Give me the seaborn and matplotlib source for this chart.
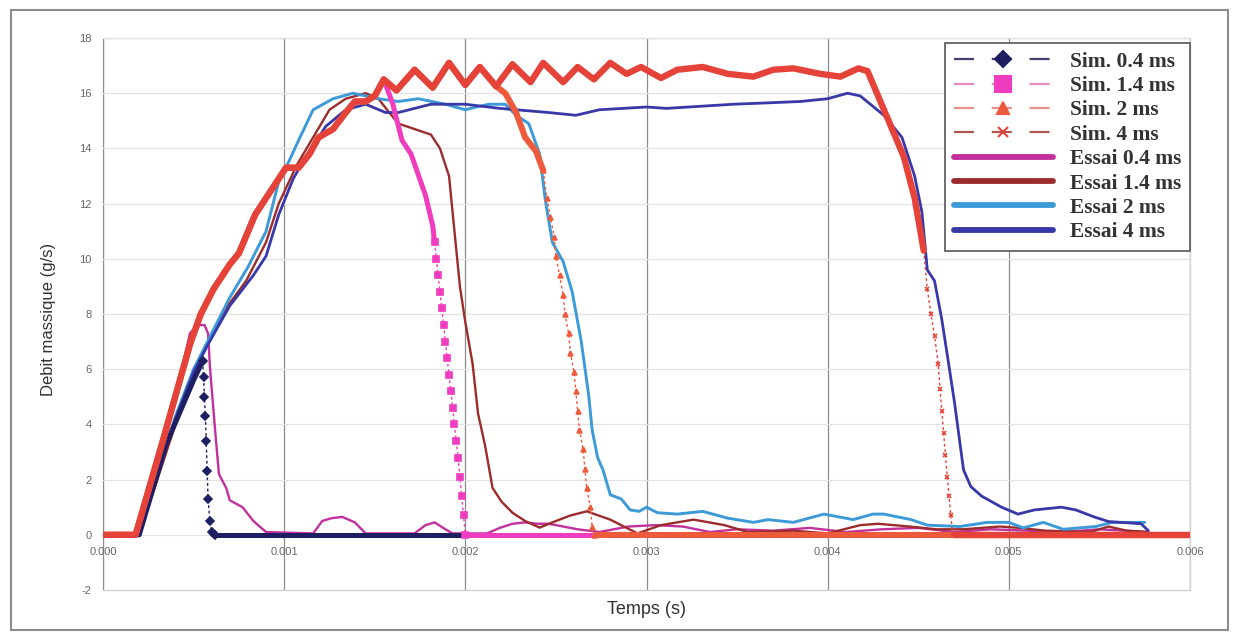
import numpy as np
import matplotlib
matplotlib.use("Agg")
import matplotlib.pyplot as plt
from matplotlib.lines import Line2D
from matplotlib.patches import Rectangle
from matplotlib.ticker import FormatStrFormatter, MultipleLocator
import seaborn as sns

# --- data (time in s, mass flow in g/s) ---
# simulations: shared rise + oscillating plateau, then each one its own tail
sim_rise_t = [0, 0.00018, 0.00033, 0.00048, 0.00054, 0.00061, 0.00070, 0.00075, 0.00084,
              0.00094, 0.00101, 0.00108, 0.00114, 0.00119, 0.00127, 0.00134, 0.00139,
              0.00145, 0.00150]
sim_rise_v = [0, 0, 3.4, 6.9, 8.0, 8.9, 9.8, 10.2, 11.6,
              12.6, 13.3, 13.3, 13.8, 14.4, 14.7, 15.3, 15.7,
              15.7, 15.9]
sim_osc_t = [0.00155, 0.00162, 0.00172, 0.00182, 0.00191, 0.00200, 0.00208, 0.00217]
sim_osc_v = [16.5, 16.1, 16.85, 16.2, 17.1, 16.3, 16.95, 16.25]

sim04_t = [0, 0.00020, 0.00035, 0.00050, 0.00055, 0.000555, 0.00056, 0.000565, 0.00057,
           0.000575, 0.00058, 0.00059, 0.00060, 0.00062, 0.00600]
sim04_v = [0, 0, 3.3, 5.6, 6.3, 5.7, 5.0, 4.3, 3.4,
           2.3, 1.3, 0.5, 0.1, 0, 0]

sim14_tail_t = [0.00155, 0.00160, 0.00165, 0.00170, 0.00178, 0.00182, 0.00183, 0.00184,
                0.00185, 0.00186, 0.00187, 0.00188, 0.00189, 0.00190, 0.00191, 0.00192,
                0.00193, 0.00194, 0.00195, 0.00196, 0.00197, 0.00198, 0.00199, 0.00200,
                0.00600]
sim14_tail_v = [16.5, 15.6, 14.3, 13.8, 12.3, 11.2, 10.6, 10.0,
                9.4, 8.8, 8.2, 7.6, 7.0, 6.4, 5.8, 5.2,
                4.6, 4.0, 3.4, 2.8, 2.1, 1.4, 0.7, 0.0,
                0.0]

sim2_tail_t = [0.00222, 0.00228, 0.00233, 0.00239, 0.00243, 0.00245, 0.00247, 0.00249,
               0.00250, 0.00252, 0.00254, 0.00255, 0.00257, 0.00258, 0.00260, 0.00261,
               0.00262, 0.00263, 0.00265, 0.00266, 0.00267, 0.00269, 0.00270, 0.00271,
               0.00600]
sim2_tail_v = [16.0, 15.3, 14.4, 13.9, 13.2, 12.2, 11.5, 10.8,
               10.1, 9.4, 8.7, 8.0, 7.3, 6.6, 5.9, 5.2,
               4.5, 3.8, 3.1, 2.4, 1.7, 1.0, 0.3, 0.0,
               0.0]

sim4_tail_t = [0.00226, 0.00236, 0.00243, 0.00254, 0.00262, 0.00271, 0.00280, 0.00289,
               0.00297, 0.00308, 0.00317, 0.00331, 0.00345, 0.00359, 0.00370, 0.00381,
               0.00396, 0.00407, 0.00417, 0.00422, 0.00433, 0.00442, 0.00448, 0.00453,
               0.00455, 0.00457, 0.00459, 0.00461, 0.00462, 0.00463, 0.00464, 0.00465,
               0.00466, 0.00467, 0.00468, 0.00469, 0.00600]
sim4_tail_v = [17.05, 16.4, 17.1, 16.4, 16.95, 16.5, 17.1, 16.7,
               16.95, 16.55, 16.85, 16.95, 16.7, 16.6, 16.85, 16.9,
               16.7, 16.6, 16.9, 16.8, 15.1, 13.7, 12.2, 10.3,
               8.9, 8.0, 7.2, 6.2, 5.3, 4.5, 3.7, 2.9,
               2.1, 1.4, 0.7, 0.0, 0.0]

# measurements
ess04_t = [0, 0.00019, 0.00030, 0.00040, 0.00048, 0.00052, 0.00056, 0.00058, 0.00059,
           0.00062, 0.00064, 0.00068, 0.00070, 0.00077, 0.00083, 0.00090, 0.00116,
           0.00121, 0.00126, 0.00132, 0.00139, 0.00145, 0.00172, 0.00178, 0.00183,
           0.00189, 0.00193, 0.00212, 0.00219, 0.00226, 0.00233, 0.00240, 0.00246,
           0.00262, 0.00274, 0.00290, 0.00305, 0.00320, 0.00335, 0.00350, 0.00370,
           0.00390, 0.00410, 0.00430, 0.00450, 0.00470, 0.00490, 0.00510, 0.00530,
           0.00550, 0.00577]
ess04_v = [0, 0, 2.6, 5.0, 7.3, 7.6, 7.6, 7.3, 6.1,
           3.7, 2.2, 1.7, 1.25, 1.0, 0.5, 0.1, 0.05,
           0.5, 0.6, 0.65, 0.45, 0.05, 0.05, 0.35, 0.45,
           0.2, 0.05, 0.05, 0.25, 0.4, 0.45, 0.4, 0.4,
           0.2, 0.1, 0.3, 0.35, 0.3, 0.1, 0.2, 0.15,
           0.25, 0.1, 0.2, 0.25, 0.1, 0.2, 0.15, 0.1,
           0.2, 0.1]

ess14_t = [0, 0.00020, 0.00030, 0.00040, 0.00050, 0.00061, 0.00070, 0.00079, 0.00090,
           0.00097, 0.00107, 0.00116, 0.00125, 0.00134, 0.00145, 0.00152, 0.00158,
           0.00163, 0.00172, 0.00181, 0.00186, 0.00191, 0.00194, 0.00197, 0.00200,
           0.00204, 0.00207, 0.00211, 0.00215, 0.00220, 0.00226, 0.00233, 0.00241,
           0.00250, 0.00258, 0.00267, 0.00280, 0.00295, 0.00308, 0.00326, 0.00343,
           0.00356, 0.00381, 0.00400, 0.00418, 0.00428, 0.00445, 0.00460, 0.00475,
           0.00495, 0.00506, 0.00520, 0.00545, 0.00555, 0.00565, 0.00577]
ess14_v = [0, 0, 2.0, 4.0, 5.8, 7.4, 8.4, 9.2, 10.6,
           12.0, 13.4, 14.4, 15.4, 15.8, 16.0, 15.8, 15.3,
           14.9, 14.7, 14.5, 14.0, 13.0, 11.0, 9.0, 7.7,
           6.2, 4.4, 3.2, 1.7, 1.2, 0.8, 0.5, 0.26,
           0.5, 0.7, 0.85, 0.55, 0.05, 0.35, 0.55, 0.35,
           0.1, 0.15, 0.05, 0.35, 0.4, 0.3, 0.2, 0.2,
           0.3, 0.25, 0.15, 0.1, 0.3, 0.15, 0.1]

ess2_t = [0, 0.00020, 0.00030, 0.00040, 0.00050, 0.00060, 0.00070, 0.00080, 0.00090,
          0.00097, 0.00101, 0.00108, 0.00116, 0.00127, 0.00138, 0.00152, 0.00163,
          0.00174, 0.00189, 0.00200, 0.00206, 0.00213, 0.00222, 0.00228, 0.00235,
          0.00241, 0.00244, 0.00248, 0.00254, 0.00259, 0.00264, 0.00268, 0.00270,
          0.00273, 0.00276, 0.00280, 0.00286, 0.00291, 0.00296, 0.00300, 0.00306,
          0.00317, 0.00331, 0.00345, 0.00359, 0.00367, 0.00381, 0.00398, 0.00414,
          0.00425, 0.00431, 0.00446, 0.00455, 0.00473, 0.00488, 0.00500, 0.00508,
          0.00519, 0.00530, 0.00548, 0.00557, 0.00575]
ess2_v = [0, 0, 2.2, 4.3, 6.0, 7.3, 8.6, 9.7, 11.0,
          12.8, 13.3, 14.3, 15.4, 15.8, 16.0, 15.8, 15.7,
          15.8, 15.6, 15.4, 15.5, 15.6, 15.6, 15.2, 14.9,
          13.8, 12.2, 10.6, 9.9, 8.8, 7.0, 5.1, 3.8,
          2.8, 2.35, 1.45, 1.3, 0.9, 0.85, 1.0, 0.8,
          0.75, 0.85, 0.6, 0.45, 0.55, 0.45, 0.75, 0.55,
          0.75, 0.75, 0.55, 0.35, 0.3, 0.45, 0.45, 0.25,
          0.45, 0.2, 0.3, 0.45, 0.45]

ess4_t = [0, 0.00020, 0.00030, 0.00040, 0.00050, 0.00058, 0.00070, 0.00083, 0.00090,
          0.00097, 0.00105, 0.00112, 0.00123, 0.00134, 0.00145, 0.00156, 0.00163,
          0.00181, 0.00200, 0.00219, 0.00246, 0.00261, 0.00274, 0.00300, 0.00311,
          0.00348, 0.00367, 0.00385, 0.00400, 0.00411, 0.00418, 0.00431, 0.00441,
          0.00448, 0.00452, 0.00455, 0.00459, 0.00463, 0.00467, 0.00470, 0.00475,
          0.00479, 0.00485, 0.00496, 0.00505, 0.00514, 0.00529, 0.00537, 0.00547,
          0.00555, 0.00573, 0.00577]
ess4_v = [0, 0, 2.2, 4.2, 5.9, 6.9, 8.3, 9.4, 10.1,
          11.6, 12.9, 13.7, 14.8, 15.4, 15.6, 15.3, 15.3,
          15.6, 15.6, 15.45, 15.3, 15.2, 15.4, 15.5, 15.45,
          15.6, 15.65, 15.7, 15.8, 16.0, 15.9, 15.2, 14.4,
          13.0, 11.7, 9.6, 9.2, 7.8, 6.1, 4.8, 2.35,
          1.75, 1.4, 1.0, 0.75, 0.9, 1.0, 0.9, 0.65,
          0.48, 0.4, 0.15]

x_ticks = [0.000, 0.001, 0.002, 0.003, 0.004, 0.005, 0.006]
sim_labels = ["Sim. 0.4 ms", "Sim. 1.4 ms", "Sim. 2 ms", "Sim. 4 ms"]
ess_labels = ["Essai 0.4 ms", "Essai 1.4 ms", "Essai 2 ms", "Essai 4 ms"]

# --- styles ---
sim_styles = [
    dict(color="#1e1e62", marker="D", ms=4.0, lw=3.6, drop=(0.00055, 0.00062), leg="#40406e", leg_ms=8),
    dict(color="#f03cbe", marker="s", ms=5.0, lw=3.6, drop=(0.00183, 0.00200), leg="#e58cc0", leg_ms=11),
    dict(color="#ee5a3c", marker="^", ms=3.5, lw=4.4, drop=(0.00243, 0.00271), leg="#e88f8a", leg_ms=8),
    dict(color="#e5433a", marker="x", ms=3.5, lw=4.6, drop=(0.00453, 0.00469), leg="#b0584e", leg_ms=7),
]
ess_styles = [
    dict(color="#c1309c", lw=1.7),
    dict(color="#9c2c2c", lw=1.7),
    dict(color="#3c9ad8", lw=2.1),
    dict(color="#3838a8", lw=2.0),
]

sns.set_style("white")
plt.rcParams["font.family"] = ["Liberation Sans", "DejaVu Sans"]
plt.rcParams["axes.unicode_minus"] = False

fig = plt.figure(figsize=(12.38, 6.36), dpi=100, facecolor="white")
ax = fig.add_axes([103 / 1238, 1 - 590 / 636, (1190 - 103) / 1238, (590 - 38) / 636])
ax.set_facecolor("white")


def draw_sim(ax, t, v, st):
    t = np.asarray(t)
    v = np.asarray(v)
    i0 = int(np.searchsorted(t, st["drop"][0] - 1e-9))
    i1 = int(np.searchsorted(t, st["drop"][1] - 1e-9))
    common = dict(ax=ax, color=st["color"], sort=False, estimator=None, legend=False)
    sns.lineplot(x=t[:i0 + 1], y=v[:i0 + 1], linewidth=st["lw"], solid_capstyle="round", **common)
    sns.lineplot(x=t[i0:i1 + 1], y=v[i0:i1 + 1], linewidth=1.0, linestyle=(0, (2, 2)),
                 marker=st["marker"], markersize=st["ms"], markeredgecolor=st["color"],
                 markerfacecolor=st["color"], markeredgewidth=1.2, **common)
    sns.lineplot(x=t[i1:], y=v[i1:], linewidth=st["lw"], solid_capstyle="butt", **common)


# measurements first, simulations on top (as in the original)
for t, v, st in zip([ess04_t, ess14_t, ess2_t, ess4_t], [ess04_v, ess14_v, ess2_v, ess4_v], ess_styles):
    sns.lineplot(x=t, y=v, ax=ax, color=st["color"], linewidth=st["lw"],
                 sort=False, estimator=None, legend=False)

sim_series = [
    (sim04_t, sim04_v),
    (sim_rise_t + sim14_tail_t, sim_rise_v + sim14_tail_v),
    (sim_rise_t + sim_osc_t + sim2_tail_t, sim_rise_v + sim_osc_v + sim2_tail_v),
    (sim_rise_t + sim_osc_t + sim4_tail_t, sim_rise_v + sim_osc_v + sim4_tail_v),
]
for (t, v), st in zip(sim_series, sim_styles):
    draw_sim(ax, t, v, st)

# axes
ax.set_xlim(0, 0.006)
ax.set_ylim(-2, 18)
ax.set_xticks(x_ticks)
ax.xaxis.set_major_formatter(FormatStrFormatter("%.3f"))
ax.yaxis.set_major_locator(MultipleLocator(2))
ax.tick_params(length=0, labelsize=8, colors="#666666")
ax.tick_params(axis="x", pad=9)
ax.tick_params(axis="y", pad=8)
for side in ["top", "left", "right"]:
    ax.spines[side].set_visible(False)
ax.spines["bottom"].set_position(("data", 0))
ax.spines["bottom"].set_color("none")
ax.add_patch(Rectangle((0, 0), 1, 1, transform=ax.transAxes, fill=False,
                       edgecolor="#d2d2d2", linewidth=1.0, zorder=0.5, clip_on=False))
ax.set_axisbelow(True)
ax.grid(axis="x", color="#8c8c8c", linewidth=0.9)
ax.grid(axis="y", color="#e2e2e2", linewidth=0.9)

ax.set_xlabel("Temps (s)", fontsize=13, color="#333333")
ax.set_ylabel("Debit massique (g/s)", fontsize=12, color="#333333")
ax.xaxis.set_label_coords(0.5, -0.02)
ax.yaxis.set_label_coords(-0.043, 0.49)

# legend in the Excel style
handles = []
for st in sim_styles:
    handles.append(Line2D([], [], color=st["leg"], linewidth=1.6, linestyle=(0, (9, 8)),
                          marker=st["marker"], markersize=st["leg_ms"],
                          markerfacecolor=st["color"], markeredgecolor=st["color"],
                          markeredgewidth=1.5))
for st in ess_styles:
    handles.append(Line2D([], [], color=st["color"], linewidth=4.2))
leg = ax.legend(handles, sim_labels + ess_labels, loc="upper right",
                bbox_to_anchor=(1.0, 1 - 5 / 552), borderaxespad=0, numpoints=1,
                handlelength=4.6, handletextpad=0.8, labelspacing=0.2, borderpad=0.4,
                frameon=True, fancybox=False, framealpha=1,
                prop={"family": ["Liberation Serif", "DejaVu Serif"], "weight": "bold", "size": 15.5})
leg.get_frame().set_edgecolor("#555555")
leg.get_frame().set_linewidth(1.2)
for txt in leg.get_texts():
    txt.set_color("#333333")

# outer chart frame
fig.patches.append(Rectangle((11 / 1238, 1 - 630 / 636), (1228 - 11) / 1238, (630 - 10) / 636,
                             transform=fig.transFigure, fill=False, edgecolor="#8c8c8c",
                             linewidth=1.5))

fig.savefig("out.png", dpi=100, facecolor="white")
